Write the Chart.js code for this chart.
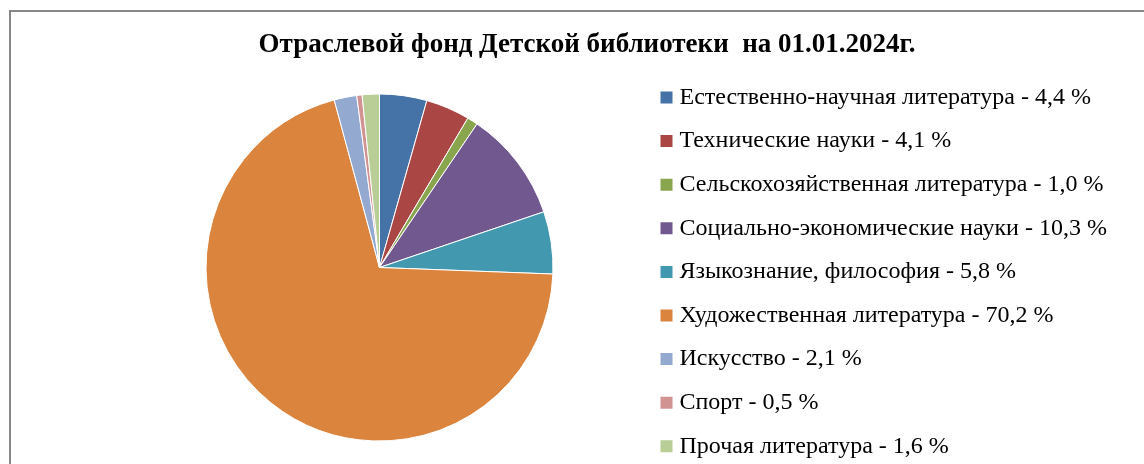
<!DOCTYPE html>
<html>
<head>
<meta charset="utf-8">
<title>Отраслевой фонд Детской библиотеки</title>
<script src="https://cdn.jsdelivr.net/npm/chart.js"></script>
<style>
    html, body { margin: 0; padding: 0; background: #fff; overflow: hidden; }
    .frame { position: absolute; left: 9px; top: 10px; width: 1200px; height: 520px; border: 2px solid #878787; }
    #fund { position: absolute; left: 11px; top: 11px; }
</style>
</head>
<body>
<div class="frame"></div>
<canvas id="fund" width="1152" height="480"></canvas>
<script>
    "use strict";

    // Data
    var categories = [
        "Естественно-научная литература",
        "Технические науки",
        "Сельскохозяйственная литература",
        "Социально-экономические науки",
        "Языкознание, философия",
        "Художественная литература",
        "Искусство",
        "Спорт",
        "Прочая литература"
    ];
    var shares = [4.4, 4.1, 1.0, 10.3, 5.8, 70.2, 2.1, 0.5, 1.6];
    var colors = ["#4572A7", "#AA4643", "#89A54E", "#71588F", "#4198AF", "#DB843D", "#93A9CF", "#D19392", "#B9CD96"];

    var labels = categories.map(function (c, i) {
        return c + " - " + shares[i].toFixed(1).replace(".", ",") + " %";
    });

    // Legend geometry
    var canvasW = 1152;
    var legendFont = 24;
    var legendPad = 19.6;
    var boxX = 654.5;
    var boxW = 2;
    var pieX = 368.5;

    var mctx = document.createElement("canvas").getContext("2d");
    mctx.font = legendFont + 'px "Liberation Serif"';
    var maxText = 0;
    labels.forEach(function (t) {
        maxText = Math.max(maxText, mctx.measureText(t).width);
    });
    var itemW = boxW + legendFont / 2 + maxText;
    var padRight = canvasW - boxX - itemW - 10;
    var padLeft = 2 * pieX - (boxX - legendPad);

    // Title spans the whole canvas, not only the padded area
    var fullTitle = {
        id: "fullTitle",
        afterLayout: function (chart) {
            var t = chart.titleBlock;
            if (t) {
                t.left = 0;
                t.right = chart.width;
                t.width = chart.width;
            }
        }
    };

    // Pie Chart
    var ctx = document.getElementById("fund").getContext("2d");
    var fundChart = new Chart(ctx, {
        type: "pie",
        data: {
            labels: labels,
            datasets: [{
                data: shares,
                backgroundColor: colors,
                borderColor: "#ffffff",
                borderWidth: 1,
                radius: 173.5
            }]
        },
        options: {
            responsive: false,
            animation: false,
            devicePixelRatio: 1,
            layout: {
                padding: { left: padLeft, right: padRight, top: 0, bottom: 13.1 }
            },
            plugins: {
                tooltip: { enabled: false },
                title: {
                    display: true,
                    text: "Отраслевой фонд Детской библиотеки  на 01.01.2024г.",
                    color: "#000",
                    font: { family: '"Liberation Serif"', size: 27, weight: "bold", lineHeight: 0.8 },
                    padding: { top: 23.7, bottom: 0.8 }
                },
                legend: {
                    position: "right",
                    align: "end",
                    labels: {
                        color: "#000",
                        font: { family: '"Liberation Serif"', size: legendFont },
                        boxWidth: boxW,
                        boxHeight: 2,
                        padding: legendPad,
                        generateLabels: function (chart) {
                            var ds = chart.data.datasets[0];
                            return chart.data.labels.map(function (text, i) {
                                return {
                                    text: text,
                                    fillStyle: ds.backgroundColor[i],
                                    strokeStyle: ds.backgroundColor[i],
                                    lineWidth: 10,
                                    fontColor: "#000",
                                    hidden: false,
                                    index: i
                                };
                            });
                        }
                    }
                }
            }
        },
        plugins: [fullTitle]
    });
</script>
</body>
</html>
